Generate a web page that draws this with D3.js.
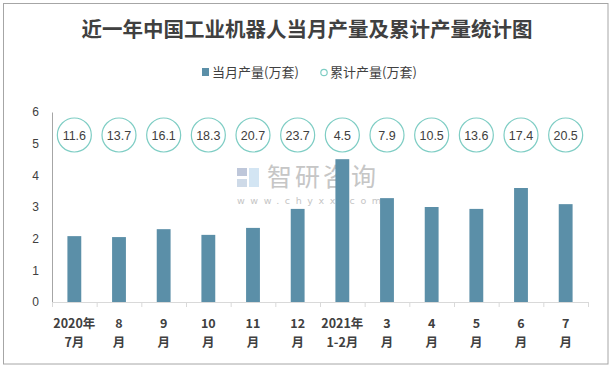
<!DOCTYPE html>
<html><head><meta charset="utf-8">
<script src="https://cdn.jsdelivr.net/npm/d3@7/dist/d3.min.js"></script>
<style>body{margin:0;background:#fff}svg{display:block}</style>
</head><body>
<svg id="c" width="612" height="369"></svg>
<script>
const categories = ["2020年|7月","8|月","9|月","10|月","11|月","12|月","2021年|1-2月","3|月","4|月","5|月","6|月","7|月"];
const monthly = [2.08, 2.05, 2.30, 2.12, 2.34, 2.94, 4.51, 3.28, 3.00, 2.94, 3.60, 3.09];
const cumulative = [11.6, 13.7, 16.1, 18.3, 20.7, 23.7, 4.5, 7.9, 10.5, 13.6, 17.4, 20.5];
const yTicks = [0,1,2,3,4,5,6];
const title = "近一年中国工业机器人当月产量及累计产量统计图";
const legendLabels = ["当月产量(万套)","累计产量(万套)"];

(function(){
const svg = d3.select("#c");
const font = "'Noto Sans CJK SC','Microsoft YaHei',sans-serif";
const pLeft = 52, pRight = 588, pTop = 112, pBottom = 302;

svg.append("rect").attr("x",3.5).attr("y",3.5).attr("width",604.5).attr("height",360.5)
  .attr("fill","#fff").attr("stroke","#a6a6a6").attr("stroke-width",1);

svg.append("text").attr("x",307).attr("y",37).attr("text-anchor","middle")
  .attr("font-family",font).attr("font-weight","bold").attr("font-size",20.5)
  .attr("fill","#404040").text(title);

// legend
const lg = svg.append("g").attr("font-family",font).attr("font-size",13).attr("fill","#404040");
lg.append("rect").attr("x",202).attr("y",68).attr("width",7).attr("height",8).attr("fill","#5b8fa8");
lg.append("text").attr("x",212).attr("y",77).text(legendLabels[0]);
lg.append("circle").attr("cx",324).attr("cy",72.5).attr("r",3.2).attr("fill","none").attr("stroke","#7ecdc4").attr("stroke-width",1.2);
lg.append("text").attr("x",330).attr("y",77).text(legendLabels[1]);

const x = d3.scaleBand().domain(categories).range([pLeft,pRight]).paddingInner(0.69).paddingOuter(0.345);
const xb = d3.scaleBand().domain(categories).range([pLeft,pRight]);
const y = d3.scaleLinear().domain([0,6]).range([pBottom,pTop]);

// watermark
const wm = svg.append("g").attr("opacity",0.9);
wm.append("rect").attr("x",237).attr("y",168).attr("width",10).attr("height",8).attr("fill","#b8c2d6");
wm.append("rect").attr("x",237).attr("y",179).attr("width",10).attr("height",8).attr("fill","#c9d6e6");
wm.append("rect").attr("x",249).attr("y",168).attr("width",10).attr("height",19).attr("fill","#cfe3f2");
wm.append("text").attr("x",267).attr("y",186).attr("font-family",font).attr("font-size",25)
  .attr("fill","#c0c0c0").attr("letter-spacing",3).text("智研咨询");
wm.append("text").attr("x",237).attr("y",203.5).attr("font-family","'DejaVu Sans',sans-serif").attr("font-size",9.5)
  .attr("fill","#c0c0c0").attr("letter-spacing",5.6).text("www.chyxx.com");

// y axis
const ya = svg.append("g").attr("transform",`translate(${pLeft},0)`)
  .call(d3.axisLeft(y).tickValues(yTicks).tickSize(0).tickPadding(13).tickFormat(d3.format("d")));
ya.select(".domain").attr("stroke","#a6a6a6");
ya.selectAll("text").attr("font-family","'Liberation Sans',Arial,sans-serif").attr("font-size",12).attr("fill","#404040");

// bars
svg.append("g").selectAll("rect").data(monthly).join("rect")
  .attr("x",(d,i)=>x(categories[i])).attr("width",x.bandwidth())
  .attr("y",d=>y(d)).attr("height",d=>pBottom-y(d)).attr("fill","#5b8fa8");

// x axis
const xa = svg.append("g").attr("transform",`translate(0,${pBottom})`)
  .call(d3.axisBottom(xb).tickSize(0).tickFormat(""));
xa.select(".domain").attr("stroke","#d9d9d9");
const edges = categories.map((c)=>xb(c)).concat([pRight]);
svg.append("g").selectAll("line").data(edges).join("line")
  .attr("x1",d=>d+0.5).attr("x2",d=>d+0.5).attr("y1",pBottom).attr("y2",pBottom+5).attr("stroke","#d9d9d9");
const lab = svg.append("g").attr("font-family",font).attr("font-weight","bold").attr("font-size",12.5).attr("fill","#404040");
categories.forEach((c,i)=>{
  const parts = c.split("|");
  const cx = xb(c)+xb.bandwidth()/2;
  lab.append("text").attr("x",cx).attr("y",328).attr("text-anchor","middle").text(parts[0]);
  lab.append("text").attr("x",cx).attr("y",347).attr("text-anchor","middle").text(parts[1]);
});

// cumulative circles
const cg = svg.append("g");
cumulative.forEach((v,i)=>{
  const cx = xb(categories[i])+xb.bandwidth()/2;
  cg.append("circle").attr("cx",cx).attr("cy",135).attr("r",17).attr("fill","#fff")
    .attr("stroke","#7ecdc4").attr("stroke-width",1.2);
  cg.append("text").attr("x",cx).attr("y",139.5).attr("text-anchor","middle")
    .attr("font-family","'Liberation Sans',Arial,sans-serif").attr("font-size",12.5).attr("fill","#404040").text(v);
});
})();
</script>
</body></html>
